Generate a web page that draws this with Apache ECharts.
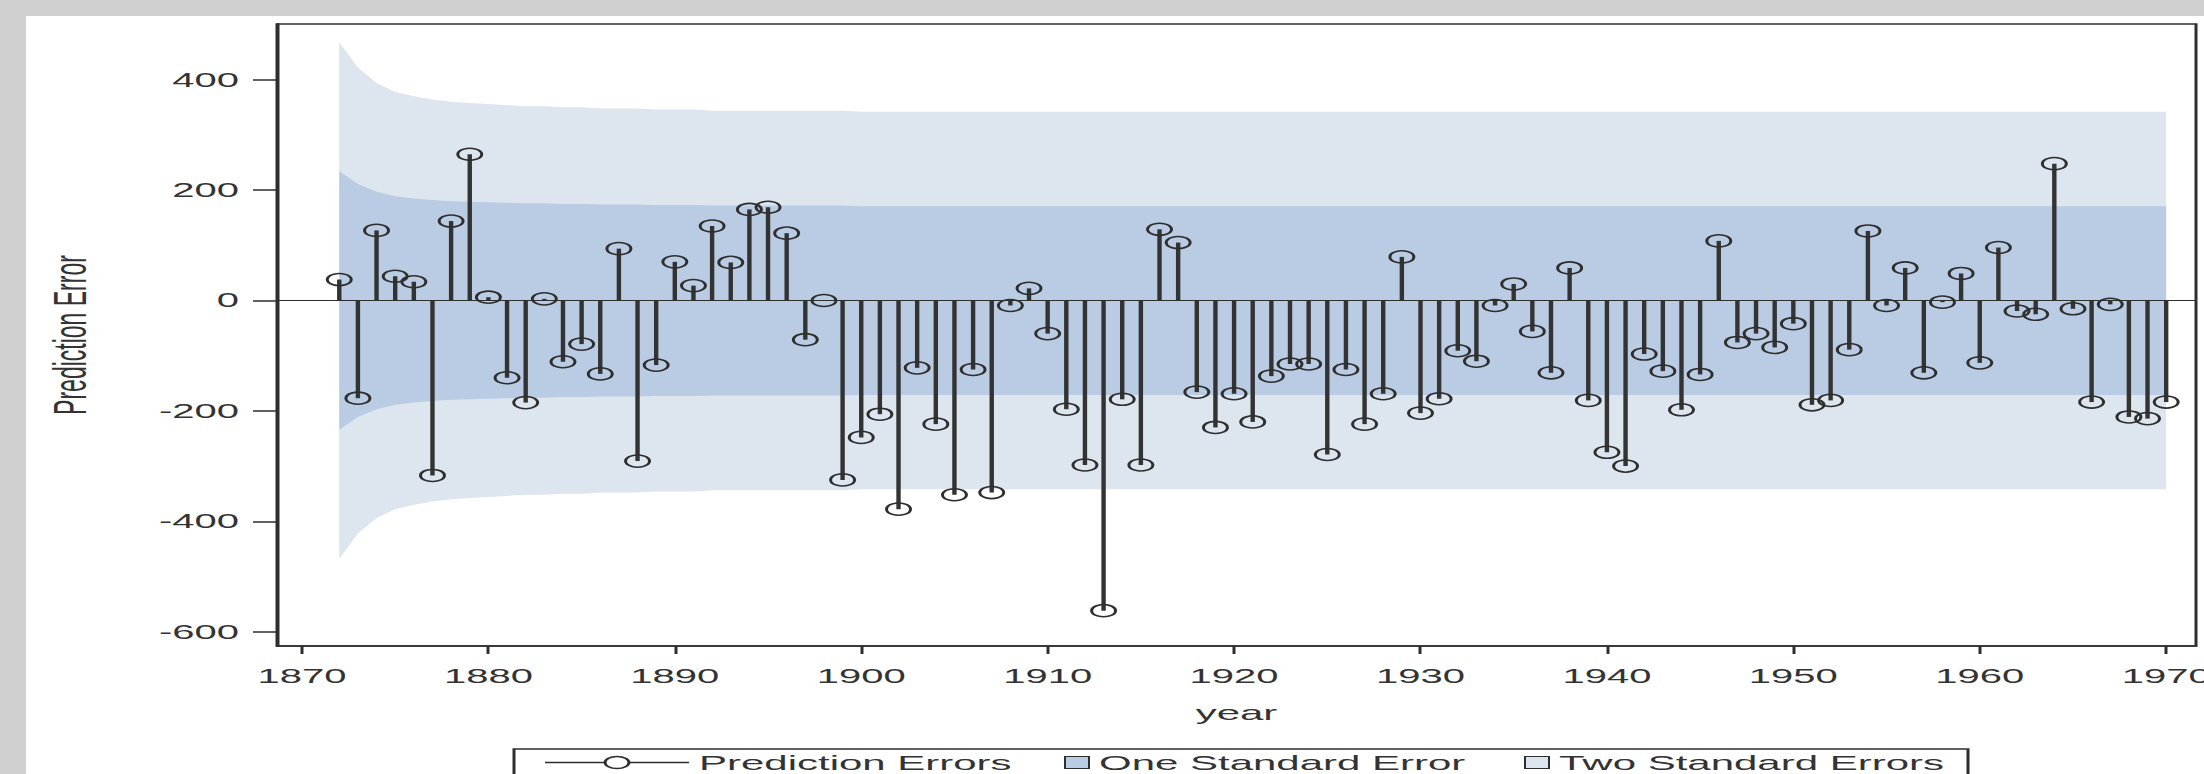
<!DOCTYPE html>
<html>
<head>
<meta charset="utf-8">
<script src="https://cdn.jsdelivr.net/npm/echarts@6/dist/echarts.min.js"></script>
<style>
html,body{margin:0;padding:0;width:2204px;height:774px;overflow:hidden;background:#d0d0d0;}
#panel{position:absolute;left:26px;top:16px;right:0;bottom:0;background:#ffffff;}
#chart{position:absolute;left:0;top:0;width:1102px;height:774px;transform:scaleX(2);transform-origin:0 0;}
</style>
</head>
<body>
<div id="panel"></div>
<div id="chart"></div>
<script>
// ---- data ----
const years = [
 1872,1873,1874,1875,1876,1877,1878,1879,1880,1881,
 1882,1883,1884,1885,1886,1887,1888,1889,1890,1891,
 1892,1893,1894,1895,1896,1897,1898,1899,1900,1901,
 1902,1903,1904,1905,1906,1907,1908,1909,1910,1911,
 1912,1913,1914,1915,1916,1917,1918,1919,1920,1921,
 1922,1923,1924,1925,1926,1927,1928,1929,1930,1931,
 1932,1933,1934,1935,1936,1937,1938,1939,1940,1941,
 1942,1943,1944,1945,1946,1947,1948,1949,1950,1951,
 1952,1953,1954,1955,1956,1957,1958,1959,1960,1961,
 1962,1963,1964,1965,1966,1967,1968,1969,1970];

const predictionErrors = [
 38,-177,127,44,34,-317,144,265,6,-140,
 -185,3,-111,-79,-133,94,-291,-117,70,27,
 135,69,165,169,122,-71,0,-325,-248,-206,
 -378,-122,-224,-352,-125,-348,-9,22,-60,-197,
 -298,-562,-179,-298,129,105,-166,-230,-169,-220,
 -137,-115,-115,-279,-125,-224,-169,79,-204,-178,
 -91,-110,-9,30,-56,-131,59,-181,-275,-300,
 -97,-128,-198,-134,108,-76,-60,-85,-42,-189,
 -181,-89,126,-9,59,-131,-3,49,-113,96,
 -19,-25,248,-15,-184,-7,-211,-214,-184];

const oneStdErr = [
 234,211,197,189,185,182,180,179,178,177,
 176,176,175,175,174,174,174,173,173,173,
 172,172,172,172,172,172,172,172,171,171,
 171,171,171,171,171,171,171,171,171,171,
 171,171,171,171,171,171,171,171,171,171,
 171,171,171,171,171,171,171,171,171,171,
 171,171,171,171,171,171,171,171,171,171,
 171,171,171,171,171,171,171,171,171,171,
 171,171,171,171,171,171,171,171,171,171,
 171,171,171,171,171,171,171,171,171];

const twoStdErr = [
 468,422,394,378,370,364,360,358,356,354,
 352,352,350,350,348,348,348,346,346,346,
 344,344,344,344,344,344,344,344,342,342,
 342,342,342,342,342,342,342,342,342,342,
 342,342,342,342,342,342,342,342,342,342,
 342,342,342,342,342,342,342,342,342,342,
 342,342,342,342,342,342,342,342,342,342,
 342,342,342,342,342,342,342,342,342,342,
 342,342,342,342,342,342,342,342,342,342,
 342,342,342,342,342,342,342,342,342];

const xTickLabels = [1870,1880,1890,1900,1910,1920,1930,1940,1950,1960,1970];
const yTickLabels = [-600,-400,-200,0,200,400];

// ---- styles ----
const lightBand = '#dde5ef';
const darkBand = '#b9cce3';
const ink = '#2e2e2e';
const font = 'Liberation Sans';
const legendFont = {fontFamily: font, fontSize: 21, color: '#333'};

const pts = (arr, sign) => years.map((y, i) => [y, sign * arr[i]]);

const chart = echarts.init(document.getElementById('chart'), null, {renderer: 'svg', width: 1102, height: 774});

const bandSeries = (name, arr, sign, color, z, extra) => Object.assign({
  name: name, type: 'line', data: pts(arr, sign), symbol: 'none',
  lineStyle: {width: 0}, itemStyle: {color: color},
  areaStyle: {color: color, opacity: 1}, z: z, silent: true
}, extra || {});

chart.setOption({
  animation: false,
  grid: {left: 138.5, right: 4, top: 24, bottom: 128, outerBoundsMode: 'none',
         show: true, borderColor: ink, borderWidth: 1.5, backgroundColor: 'transparent'},
  xAxis: {
    type: 'value', min: 1868.66, max: 1971.6,
    name: 'year', nameLocation: 'middle', nameGap: 56,
    nameTextStyle: {fontFamily: font, fontSize: 21, color: '#333'},
    axisLine: {onZero: false, lineStyle: {color: ink, width: 1.5}},
    axisTick: {show: true, length: 8, customValues: xTickLabels, lineStyle: {color: ink, width: 1.5}},
    axisLabel: {customValues: xTickLabels, margin: 20, fontFamily: font, fontSize: 20, color: '#333',
                formatter: v => String(v)},
    splitLine: {show: false}
  },
  yAxis: {
    type: 'value', min: -626, max: 501,
    name: 'Prediction Error', nameLocation: 'middle', nameGap: 92,
    nameTextStyle: {fontFamily: font, fontSize: 23, color: '#333'},
    axisLine: {lineStyle: {color: ink, width: 1.5}},
    axisTick: {show: true, length: 12, customValues: yTickLabels, lineStyle: {color: ink, width: 1.5}},
    axisLabel: {customValues: yTickLabels, margin: 19, fontFamily: font, fontSize: 20, color: '#333',
                formatter: v => String(v)},
    splitLine: {show: false}
  },
  legend: [
    {left: 270, top: 752, padding: 0, itemWidth: 72, itemHeight: 12, selectedMode: false,
     textStyle: legendFont,
     data: [{name: 'Prediction Errors', icon: 'path://M0,6L30,6M42,6L72,6M30,6A6,6,0,1,1,42,6A6,6,0,1,1,30,6',
             itemStyle: {color: 'none', borderColor: ink, borderWidth: 1.5}}]},
    {left: 532, top: 752, padding: 0, itemWidth: 12, itemHeight: 12, selectedMode: false,
     textStyle: legendFont,
     data: [{name: 'One Standard Error', icon: 'rect', itemStyle: {color: darkBand, borderColor: ink, borderWidth: 1}}]},
    {left: 762, top: 752, padding: 0, itemWidth: 12, itemHeight: 12, selectedMode: false,
     textStyle: legendFont,
     data: [{name: 'Two Standard Errors', icon: 'rect', itemStyle: {color: lightBand, borderColor: ink, borderWidth: 1}}]}
  ],
  graphic: [
    {type: 'rect', shape: {x: 257, y: 749, width: 727, height: 30}, style: {fill: 'none', stroke: ink, lineWidth: 1.5}, silent: true}
  ],
  series: [
    bandSeries('Two Standard Errors', twoStdErr, 1, lightBand, 1),
    bandSeries('Two Standard Errors', twoStdErr, -1, lightBand, 1),
    bandSeries('One Standard Error', oneStdErr, 1, darkBand, 2),
    bandSeries('One Standard Error', oneStdErr, -1, darkBand, 2, {
      markLine: {silent: true, symbol: ['none', 'none'], label: {show: false},
                 lineStyle: {color: ink, width: 1, type: 'solid'}, data: [{yAxis: 0}]}
    }),
    {name: 'Prediction Errors', type: 'bar', data: pts(predictionErrors, 1), barWidth: 2.2,
     itemStyle: {color: '#333'}, z: 4, silent: true},
    {name: 'Prediction Errors', type: 'scatter', data: pts(predictionErrors, 1), symbol: 'circle', symbolSize: 12,
     itemStyle: {color: 'rgba(0,0,0,0)', borderColor: ink, borderWidth: 1.5, opacity: 1}, z: 5, silent: true}
  ]
});
</script>
</body>
</html>
